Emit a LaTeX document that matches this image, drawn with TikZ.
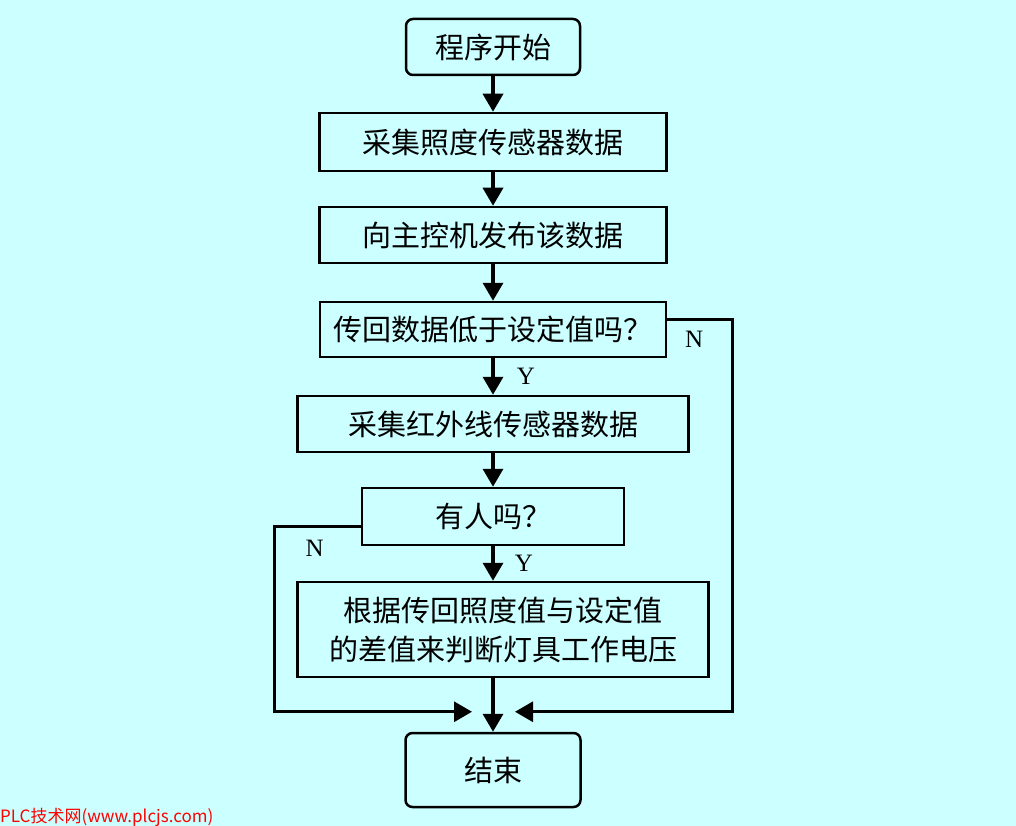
\documentclass[tikz,border=0pt]{standalone}
\usepackage{fontspec}
\setmainfont{Liberation Serif}
\newfontfamily\cjk{Noto Sans CJK SC}
\usetikzlibrary{positioning}
\usetikzlibrary{arrows.meta}
\definecolor{bgcyan}{RGB}{204,255,255}
\tikzset{node distance=35pt, % Gap between two boxes
every node/.style={font=\cjk\fontsize{29}{39}\selectfont},
box/.style={ % Process and question boxes
draw,
line width=2.5pt,
inner sep=0pt,
align=center},
round box/.style={box, rounded corners=7pt}, % Start and end
every edge/.style={ % Arrows between boxes
draw,
line width=3.5pt,
-{Triangle[length=18pt,width=20pt]}},
loopline/.style={ % N branches
draw,
line width=3pt,
-{Triangle[length=18pt,width=20pt]}},
yn/.style={font=\fontsize{25}{25}\selectfont, inner sep=0pt}}

\begin{document}
\begin{tikzpicture}
    \useasboundingbox[fill=bgcyan] (0,0) rectangle (1016pt,-826pt);
    \node[round box, minimum width=174pt, minimum height=56pt] (b0) at (493pt,-47pt) {程序开始};
    \node[box, minimum width=347pt, minimum height=58pt, below=35.5pt of b0] (b1) {采集照度传感器数据};
    \node[box, minimum width=347pt, minimum height=56pt, below=33.5pt of b1] (b2) {向主控机发布该数据};
    \node[box, minimum width=346pt, minimum height=55pt, below=36.5pt of b2] (b3) {传回数据低于设定值吗？};
    \node[box, minimum width=391pt, minimum height=56pt, below=36.5pt of b3] (b4) {采集红外线传感器数据};
    \node[box, minimum width=262pt, minimum height=57pt, below=33.5pt of b4] (b5) {有人吗？};
    \node[box, minimum width=411pt, minimum height=95pt, below=34.5pt of b5, xshift=10pt] (b6) {根据传回照度值与设定值\\的差值来判断灯具工作电压};
    \node[round box, minimum width=175pt, minimum height=74pt, below=53.5pt of b6, xshift=-10pt] (b7) {结束};
    \coordinate (m) at ([yshift=20pt]b7.north);
    \draw (b0) edge (b1);
    \draw (b1) edge (b2);
    \draw (b2) edge (b3);
    \draw (b3) edge node[yn, right=22pt] (y1) {Y} (b4);
    \draw (b4) edge (b5);
    \draw (b5) edge node[yn, right=20pt] (y2) {Y} (b5.south |- b6.north);
    \draw (b6.south -| b7) edge (b7);
    \draw[loopline] ([yshift=10pt]b3.east) -- ++(65pt,0) |- ([xshift=22pt]m);
    \draw[loopline] ([yshift=-10pt]b5.west) -- ++(-86pt,0) |- ([xshift=-21pt]m);
    \node[yn] (n1) at ([xshift=27pt,yshift=-10pt]b3.east) {N};
    \node[yn] (n2) at ([xshift=-46pt,yshift=-32pt]b5.west) {N};
    \node[font=\cjk\fontsize{17}{17}\selectfont, text=red, anchor=west, inner sep=0pt] (wm) at (0pt,-817pt) {PLC技术网(www.plcjs.com)};
\end{tikzpicture}
\end{document}
